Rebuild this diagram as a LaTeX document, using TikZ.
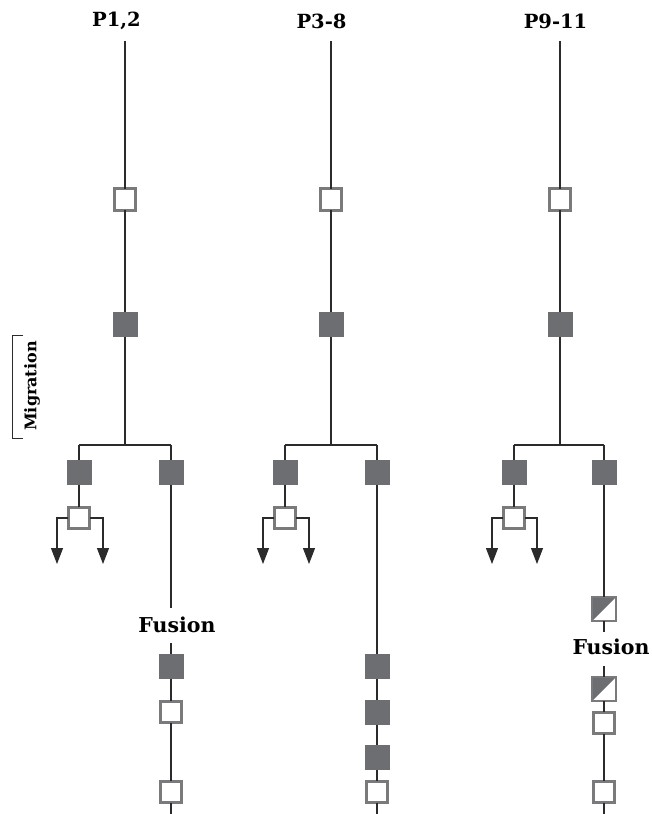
\documentclass[tikz,border=0pt]{standalone}
\usepackage{fontspec}
\setmainfont{DejaVu Serif}
\usetikzlibrary{arrows.meta}
\definecolor{boxdark}{HTML}{6D6E71}
\definecolor{boxedge}{HTML}{7A7A7D}
\definecolor{linecol}{HTML}{2B2B2B}
\begin{document}
\begin{tikzpicture}[x=1pt,y=-1pt,
  conn/.style={draw=linecol,line width=1.2pt},
  openbox/.style={draw=boxedge,line width=2.7pt,fill=white,minimum size=21.5pt,inner sep=0pt,outer sep=0pt},
  darkbox/.style={fill=boxdark,minimum size=25pt,inner sep=0pt,outer sep=0pt},
  halfbox/.style={draw=boxedge,line width=1.2pt,fill=white,minimum size=24pt,inner sep=0pt,outer sep=0pt,
    path picture={\fill[boxdark] (path picture bounding box.south west) -- (path picture bounding box.north east) -- (path picture bounding box.north west) -- cycle;}},
  title/.style={font=\bfseries\fontsize{19.5}{22}\selectfont,inner sep=0pt},
  fuslabel/.style={font=\bfseries\fontsize{20.5}{23}\selectfont,inner sep=0pt},
  arr/.style={conn,-{Triangle[length=16pt,width=12pt]}}
]
\useasboundingbox (0,0) rectangle (652,814);

% ---------- Column 1 ----------
\node[title] (t1) at (116.5,21) {P1,2};
\coordinate (s1) at (125,41);
\node[openbox] (o1) at (125,199.5) {};
\node[darkbox] (d1) at (125,324.5) {};
\coordinate (b1) at (125,445);
\coordinate (b1l) at (79,445);
\coordinate (b1r) at (171,445);
\node[darkbox] (ld1) at (79,472) {};
\node[darkbox] (rd1) at (171,472) {};
\node[openbox] (lo1) at (79,518) {};
\coordinate (a1l) at (57,564);
\coordinate (a1r) at (103,564);
\coordinate (f1a) at (171,608);
\node[fuslabel] (fus1) at (177,625) {Fusion};
\coordinate (f1b) at (171,643);
\node[darkbox] (e1) at (171,666) {};
\node[openbox] (e2) at (171,712) {};
\node[openbox] (e3) at (171,792) {};
\coordinate (end1) at (171,814);

\draw[conn] (s1) -- (o1) -- (d1) -- (b1);
\draw[conn] (b1l) -- (b1r);
\draw[conn] (b1l) -- (ld1) -- (lo1);
\draw[conn] (b1r) -- (rd1) -- (f1a);
\draw[arr] (lo1.west) -| (a1l);
\draw[arr] (lo1.east) -| (a1r);
\draw[conn] (f1b) -- (e1) -- (e2) -- (e3) -- (end1);

% ---------- Column 2 ----------
\node[title] (t2) at (321.5,21) {P3-8};
\coordinate (s2) at (331,41);
\node[openbox] (o2) at (331,199.5) {};
\node[darkbox] (d2) at (331,324.5) {};
\coordinate (b2) at (331,445);
\coordinate (b2l) at (285,445);
\coordinate (b2r) at (377,445);
\node[darkbox] (ld2) at (285,472) {};
\node[darkbox] (rd2) at (377,472) {};
\node[openbox] (lo2) at (285,518) {};
\coordinate (a2l) at (263,564);
\coordinate (a2r) at (309,564);
\node[darkbox] (g1) at (377,666) {};
\node[darkbox] (g2) at (377,712) {};
\node[darkbox] (g3) at (377,757) {};
\node[openbox] (g4) at (377,792) {};
\coordinate (end2) at (377,814);

\draw[conn] (s2) -- (o2) -- (d2) -- (b2);
\draw[conn] (b2l) -- (b2r);
\draw[conn] (b2l) -- (ld2) -- (lo2);
\draw[conn] (b2r) -- (rd2) -- (g1) -- (g2) -- (g3) -- (g4) -- (end2);
\draw[arr] (lo2.west) -| (a2l);
\draw[arr] (lo2.east) -| (a2r);

% ---------- Column 3 ----------
\node[title] (t3) at (555.5,21) {P9-11};
\coordinate (s3) at (560,41);
\node[openbox] (o3) at (560,199.5) {};
\node[darkbox] (d3) at (560,324.5) {};
\coordinate (b3) at (560,445);
\coordinate (b3l) at (514,445);
\coordinate (b3r) at (604,445);
\node[darkbox] (ld3) at (514,472) {};
\node[darkbox] (rd3) at (604,472) {};
\node[openbox] (lo3) at (514,518) {};
\coordinate (a3l) at (492,564);
\coordinate (a3r) at (537,564);
\node[halfbox] (h1) at (604,609) {};
\coordinate (f3a) at (604,632);
\node[fuslabel] (fus2) at (611,647) {Fusion};
\coordinate (f3b) at (604,666);
\node[halfbox] (h2) at (604,689) {};
\node[openbox] (k1) at (604,723) {};
\node[openbox] (k2) at (604,792) {};
\coordinate (end3) at (604,814);

\draw[conn] (s3) -- (o3) -- (d3) -- (b3);
\draw[conn] (b3l) -- (b3r);
\draw[conn] (b3l) -- (ld3) -- (lo3);
\draw[conn] (b3r) -- (rd3) -- (h1) -- (f3a);
\draw[arr] (lo3.west) -| (a3l);
\draw[arr] (lo3.east) -| (a3r);
\draw[conn] (f3b) -- (h2) -- (k1) -- (k2) -- (end3);

% ---------- Migration bracket ----------
\coordinate (m1) at (23,335);
\coordinate (m2) at (12,335);
\coordinate (m3) at (12,438);
\coordinate (m4) at (23,438);
\draw[conn,line width=1pt] (m1) -- (m2) -- (m3) -- (m4);
\node[font=\bfseries\fontsize{16}{18}\selectfont,rotate=90,inner sep=0pt] (mig) at (32,386) {Migration};
\end{tikzpicture}
\end{document}
